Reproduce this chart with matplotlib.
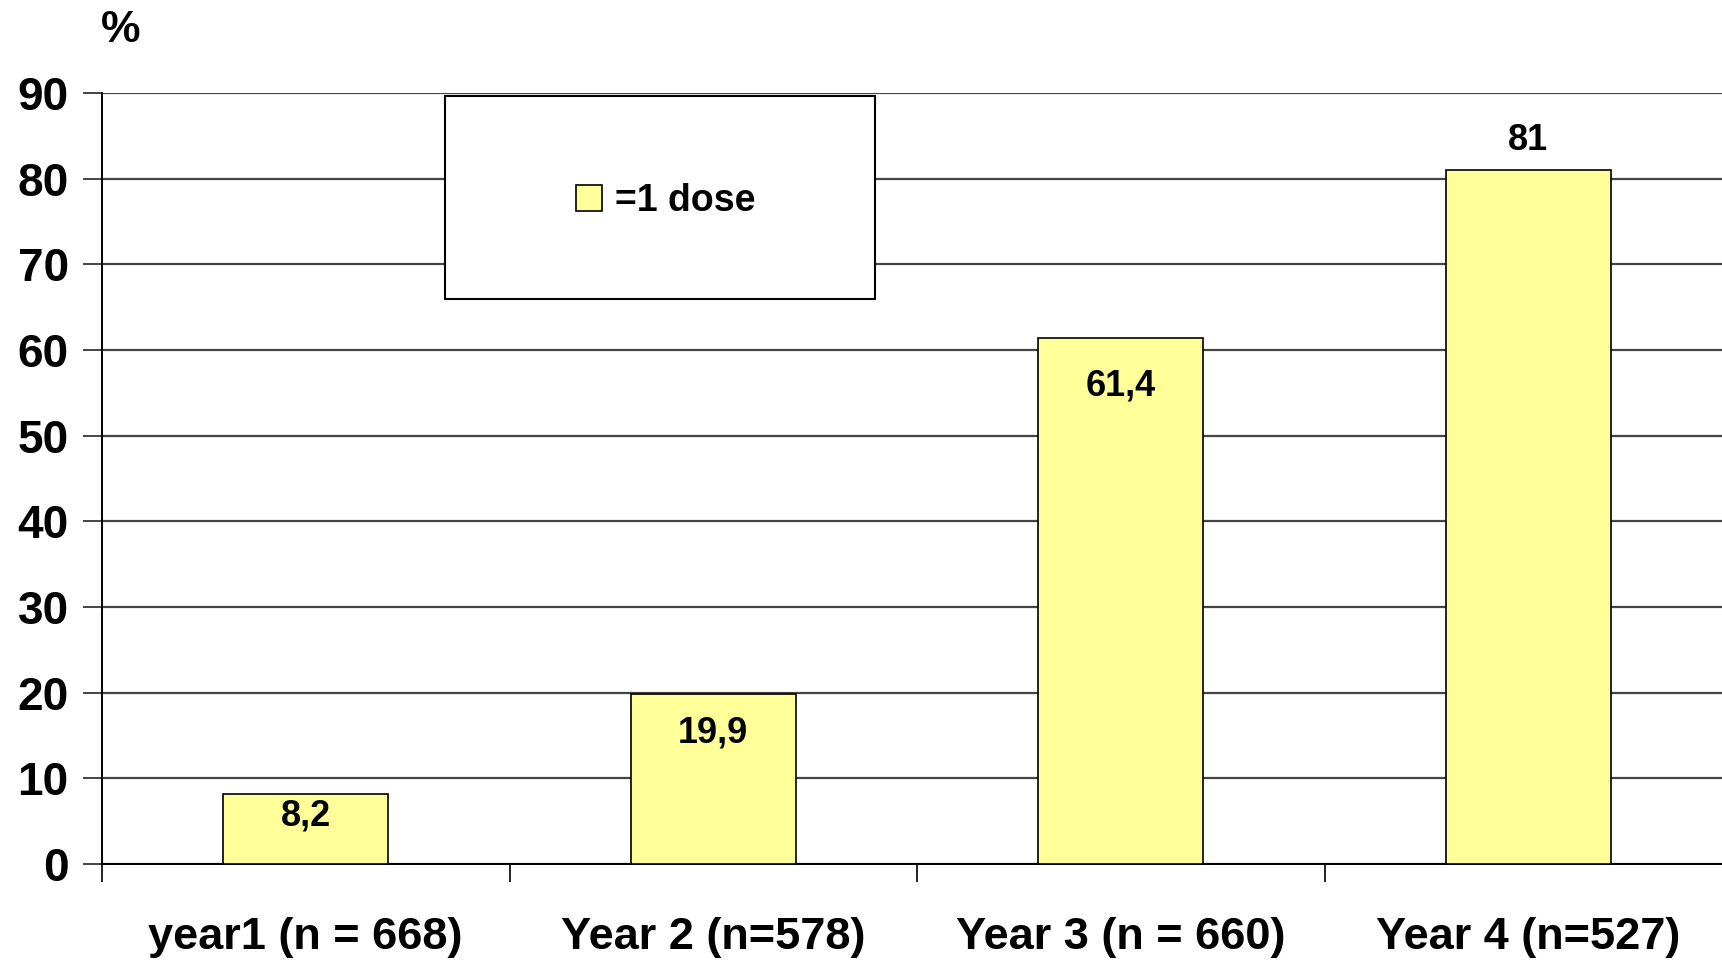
import matplotlib
matplotlib.use("Agg")
import matplotlib.pyplot as plt
from matplotlib.patches import Rectangle

categories = ["year1 (n = 668)", "Year 2 (n=578)", "Year 3 (n = 660)", "Year 4 (n=527)"]
values = [8.2, 19.9, 61.4, 81]
value_labels = ["8,2", "19,9", "61,4", "81"]
legend_label = "=1 dose"
y_ticks = [0, 10, 20, 30, 40, 50, 60, 70, 80, 90]

# label offsets relative to bar top (data units), as placed in the original
label_offsets = [-2.6, -4.55, -5.55, 3.5]

plt.rcParams['font.family'] = ['Liberation Sans', 'DejaVu Sans']
plt.rcParams['font.weight'] = 'bold'

fig = plt.figure(figsize=(17.22, 9.6), dpi=100)
ax = fig.add_axes([102/1722, 96/960, 1630/1722, 771/960])

x = list(range(len(categories)))
bars = ax.bar(x, values, width=0.405, color="#FFFF99", edgecolor="black",
              linewidth=1.2, zorder=3, label=legend_label)

for xi, v, lab, off in zip(x, values, value_labels, label_offsets):
    ax.text(xi, v + off, lab, ha="center", va="center", fontsize=26,
            fontweight="bold", zorder=4)

ax.set_xlim(-0.5, len(categories) - 0.5)
ax.set_ylim(0, 90)
ax.set_yticks(y_ticks)
ax.set_yticklabels([str(t) for t in y_ticks], fontsize=33, fontweight="bold")
ax.yaxis.grid(True, color="#444444", linewidth=1.6, zorder=0)
ax.set_axisbelow(True)

ax.set_xticks([i - 0.5 for i in range(len(categories) + 1)])
ax.set_xticklabels([])
ax.set_xticks(x, minor=True)
ax.set_xticklabels(categories, minor=True, fontsize=32.5, fontweight="bold")
ax.tick_params(axis="x", which="major", length=13, width=1.2, direction="out")
ax.tick_params(axis="x", which="minor", length=0, pad=38)
ax.tick_params(axis="y", length=14, width=1.4, direction="out", pad=10,
               color="#444444")

for s in ["top", "right"]:
    ax.spines[s].set_visible(False)
ax.spines["left"].set_linewidth(1.4)
ax.spines["bottom"].set_linewidth(1.4)

fig.text(101/1722, 1 - 31/960, "%", fontsize=32, fontweight="bold",
         ha="left", va="center")

# legend box
box = Rectangle((445/1722, 1 - 298.7/960), 430/1722, 203/960,
                transform=fig.transFigure, facecolor="white",
                edgecolor="black", linewidth=1.5, zorder=5)
fig.patches.append(box)
leg = fig.legend(handles=[bars], labels=[legend_label], loc="center",
                 bbox_to_anchor=(666/1722, 1 - 201/960), frameon=False,
                 handlelength=0.7, handleheight=0.7,
                 handletextpad=0.35, prop={"weight": "bold", "size": 27})
leg.set_zorder(6)

fig.savefig("out.png", dpi=100)
